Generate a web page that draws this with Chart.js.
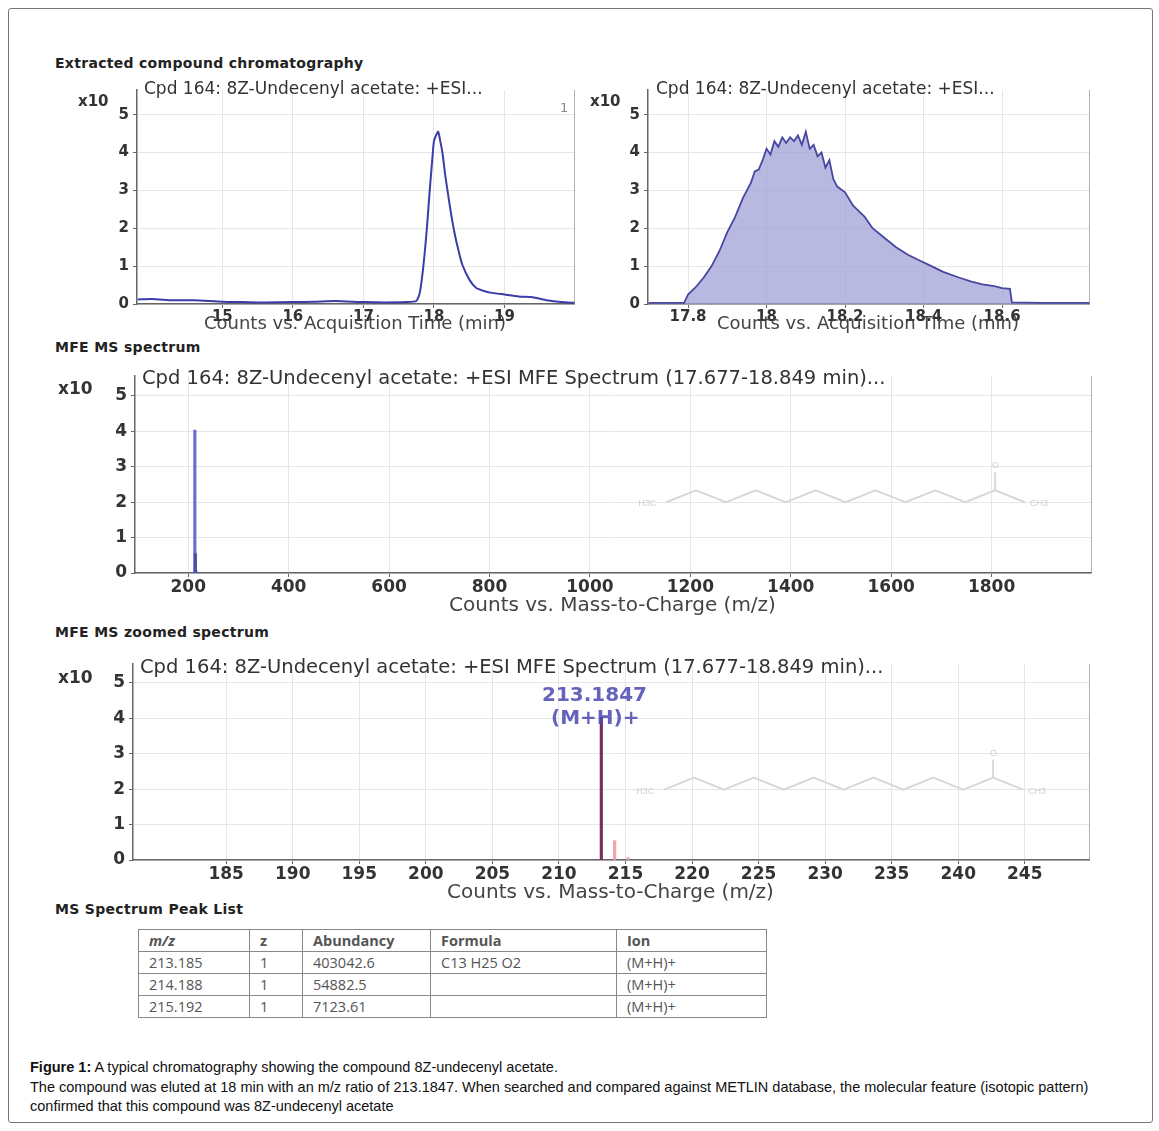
<!DOCTYPE html>
<html><head><meta charset="utf-8">
<script src="https://cdn.jsdelivr.net/npm/chart.js@4.4.1/dist/chart.umd.min.js"></script>
<style>
body{margin:0;background:#fff;width:1159px;height:1131px;position:relative;font-family:"DejaVu Sans",sans-serif;overflow:hidden}
.frame{position:absolute;left:8px;top:8px;width:1143px;height:1113px;border:1px solid #777;border-radius:3px}
.sec{position:absolute;font-weight:bold;font-size:14px;color:#222;letter-spacing:0.3px}
.ttl{position:absolute;color:#333;white-space:nowrap}
.cw{position:absolute}
.x10{position:absolute;font-size:15px;color:#333;font-weight:bold}
.axt{position:absolute;font-size:18px;color:#444;text-align:center;white-space:nowrap}
table{position:absolute;left:138px;top:929px;border-collapse:collapse;font-family:"Open Sans","Liberation Sans",sans-serif;font-size:14.5px;color:#555}
td{border:1.5px solid #888;height:21px;padding:0 10px;}
.cap{position:absolute;left:30px;top:1058px;font-family:"Liberation Sans",Arial,sans-serif;font-size:14.5px;line-height:19.5px;color:#111}
</style></head><body>
<div class="frame"></div>
<div class="sec" style="left:55px;top:55px">Extracted compound chromatography</div>
<div class="sec" style="left:55px;top:339px">MFE MS spectrum</div>
<div class="sec" style="left:55px;top:624px">MFE MS zoomed spectrum</div>
<div class="sec" style="left:55px;top:901px">MS Spectrum Peak List</div>

<div class="cw" id="w1"><canvas id="c1"></canvas></div>
<div class="cw" id="w2"><canvas id="c2"></canvas></div>
<div class="cw" id="w3"><canvas id="c3"></canvas></div>
<div class="cw" id="w4"><canvas id="c4"></canvas></div>

<div class="ttl" style="left:144px;top:78px;font-size:17px">Cpd 164: 8Z-Undecenyl acetate: +ESI...</div>
<div class="ttl" style="left:560px;top:100px;font-size:13px;color:#888">1</div>
<div class="ttl" style="left:656px;top:78px;font-size:17px">Cpd 164: 8Z-Undecenyl acetate: +ESI...</div>
<div class="ttl" style="left:142px;top:366px;font-size:19.5px">Cpd 164: 8Z-Undecenyl acetate: +ESI MFE Spectrum (17.677-18.849 min)...</div>
<div class="ttl" style="left:140px;top:655px;font-size:19.5px">Cpd 164: 8Z-Undecenyl acetate: +ESI MFE Spectrum (17.677-18.849 min)...</div>
<div class="ttl" style="left:542px;top:682px;font-size:20px;color:#4a48b0;font-weight:bold;opacity:.85">213.1847</div>
<div class="ttl" style="left:551px;top:705px;font-size:20px;color:#4a48b0;font-weight:bold;opacity:.85">(M+H)+</div>

<div class="x10" style="left:78px;top:92px">x10</div>
<div class="x10" style="left:590px;top:92px">x10</div>
<div class="x10" style="left:58px;top:378px;font-size:17px">x10</div>
<div class="x10" style="left:58px;top:667px;font-size:17px">x10</div>

<div class="axt" style="left:137px;width:436px;top:312px">Counts vs. Acquisition Time (min)</div>
<div class="axt" style="left:648px;width:440px;top:312px">Counts vs. Acquisition Time (min)</div>
<div class="axt" style="left:135px;width:955px;top:592px;font-size:20px">Counts vs. Mass-to-Charge (m/z)</div>
<div class="axt" style="left:133px;width:955px;top:879px;font-size:20px">Counts vs. Mass-to-Charge (m/z)</div>

<table>
<tr><td style="width:90px"><i><b>m/z</b></i></td><td style="width:32px"><b>z</b></td><td style="width:107px"><b>Abundancy</b></td><td style="width:165px"><b>Formula</b></td><td style="width:129px"><b>Ion</b></td></tr>
<tr><td>213.185</td><td>1</td><td>403042.6</td><td>C13 H25 O2</td><td>(M+H)+</td></tr>
<tr><td>214.188</td><td>1</td><td>54882.5</td><td></td><td>(M+H)+</td></tr>
<tr><td>215.192</td><td>1</td><td>7123.61</td><td></td><td>(M+H)+</td></tr>
</table>

<div class="cap"><b>Figure 1:</b> A typical chromatography showing the compound 8Z-undecenyl acetate.<br>The compound was eluted at 18 min with an m/z ratio of 213.1847. When searched and compared against METLIN database, the molecular feature (isotopic pattern)<br>confirmed that this compound was 8Z-undecenyl acetate</div>

<script>
// ---- data ----
const tic1Time = [13.8,14.0,14.3,14.6,15.0,15.3,15.6,16.0,16.3,16.6,17.0,17.3,17.6,17.75,17.8,17.85,17.9,17.94,17.98,18.0,18.03,18.06,18.09,18.12,18.16,18.2,18.25,18.3,18.35,18.4,18.5,18.6,18.7,18.8,19.0,19.2,19.4,19.6,19.8,20.0];
const tic1Val  = [0.12,0.13,0.10,0.10,0.06,0.05,0.04,0.05,0.06,0.08,0.05,0.04,0.05,0.08,0.3,1.0,2.0,3.0,3.9,4.3,4.45,4.55,4.3,4.0,3.4,2.9,2.3,1.8,1.4,1.05,0.65,0.42,0.35,0.3,0.25,0.2,0.18,0.1,0.05,0.03];
const tic2Time = [17.70,17.75,17.79,17.80,17.82,17.84,17.86,17.88,17.90,17.92,17.94,17.96,17.97,17.98,17.99,18.00,18.01,18.02,18.03,18.04,18.05,18.06,18.07,18.08,18.09,18.10,18.11,18.12,18.13,18.14,18.15,18.16,18.17,18.18,18.20,18.22,18.25,18.27,18.30,18.33,18.36,18.39,18.42,18.45,18.49,18.52,18.55,18.58,18.60,18.62,18.625,18.70,18.824];
const tic2Val  = [0.03,0.03,0.03,0.25,0.45,0.7,1.0,1.4,1.9,2.3,2.8,3.2,3.5,3.55,3.8,4.1,3.95,4.3,4.15,4.4,4.25,4.4,4.3,4.45,4.2,4.55,4.1,4.2,3.9,4.0,3.6,3.8,3.3,3.1,2.95,2.6,2.3,2.0,1.75,1.5,1.3,1.15,1.0,0.85,0.7,0.6,0.52,0.47,0.42,0.4,0.04,0.03,0.03];
const msMz   = [213.185,214.188,215.192];
const msAbun = [4.03,0.55,0.07];
const ticks1 = [15,16,17,18,19];
const ticks2 = [17.8,18,18.2,18.4,18.6];
const ticks3 = [200,400,600,800,1000,1200,1400,1600,1800];
const ticks4 = [185,190,195,200,205,210,215,220,225,230,235,240,245];
const yTicks = [0,1,2,3,4,5];

const YW=58, XH=34;
function place(id,l,t,w,h){const d=document.getElementById(id);d.style.left=(l-YW)+'px';d.style.top=t+'px';d.style.width=(w+YW+2)+'px';d.style.height=(h+XH)+'px';}
place('w1',137,77,436,227);
place('w2',648,77,440,227);
place('w3',135,362,955,211);
place('w4',133,650,955,210);

const structure={id:'struct',afterDatasetsDraw(c){
  if(!c.options.plugins.struct||!c.options.plugins.struct.on)return;
  const a=c.chartArea,ctx=c.ctx;const x0=a.left+a.width*0.555,x1=a.left+a.width*0.93,ym=a.top+a.height*0.62;
  ctx.save();ctx.strokeStyle='#d8d8d8';ctx.lineWidth=2;ctx.beginPath();
  const n=12;for(let i=0;i<=n;i++){const x=x0+(x1-x0)*i/n;const y=ym+(i%2?-8:4);i?ctx.lineTo(x,y):ctx.moveTo(x,y);}
  ctx.stroke();const xc=x0+(x1-x0)*11/n;ctx.beginPath();ctx.moveTo(xc,ym-8);ctx.lineTo(xc,ym-26);ctx.stroke();
  ctx.fillStyle='#d0d0d0';ctx.font='9px sans-serif';ctx.fillText('H3C',x0-28,ym+8);ctx.fillText('CH3',x1+5,ym+8);ctx.fillText('O',xc-3,ym-30);
  ctx.restore();}};

function scales(xmin,xmax,xt,ymax,fs){
  return {
    x:{type:'linear',offset:false,min:xmin,max:xmax,afterBuildTicks:s=>{s.ticks=xt.map(v=>({value:v}));},afterFit:s=>{s.height=XH;},
       grid:{color:'#e6e6e6',offset:false,drawTicks:true,tickLength:4,tickColor:'#666'},border:{color:'#666',width:1.5},
       ticks:{color:'#333',font:{size:fs,family:'DejaVu Sans',weight:'bold'},padding:0,maxRotation:0,autoSkip:false,callback:v=>String(v)}},
    y:{min:0,max:ymax,afterBuildTicks:s=>{s.ticks=yTicks.map(v=>({value:v}));},afterFit:s=>{s.width=YW;},
       grid:{color:'#e6e6e6',tickLength:4,tickColor:'#666'},border:{color:'#666',width:1.5},
       ticks:{color:'#333',font:{size:fs,family:'DejaVu Sans',weight:'bold'},padding:4,callback:v=>String(v)}}
  };
}
const frameRight={id:'fr',afterDraw(c){const a=c.chartArea,x=c.ctx;x.save();x.strokeStyle='#999';x.lineWidth=1.5;x.beginPath();x.moveTo(a.right,a.top);x.lineTo(a.right,a.bottom);x.stroke();x.restore();}};
const base={responsive:true,maintainAspectRatio:false,animation:false,layout:{padding:0},plugins:{legend:{display:false},tooltip:{enabled:false}}};

new Chart('c1',{type:'line',data:{datasets:[{data:tic1Time.map((t,i)=>({x:t,y:tic1Val[i]})),borderColor:'#3a3ea6',borderWidth:2,pointRadius:0,tension:0.2}]},
  options:{...base,scales:scales(13.79,20.0,ticks1,5.65,15)},plugins:[frameRight]});
new Chart('c2',{type:'line',data:{datasets:[{data:tic2Time.map((t,i)=>({x:t,y:tic2Val[i]})),borderColor:'#4747a0',borderWidth:1.8,backgroundColor:'rgba(160,160,215,0.75)',fill:'origin',pointRadius:0}]},
  options:{...base,scales:scales(17.698,18.824,ticks2,5.65,15)},plugins:[frameRight]});
new Chart('c3',{type:'bar',data:{datasets:[{data:msMz.map((m,i)=>({x:m,y:msAbun[i]})),backgroundColor:['#6c6ed0','#4c4ea8','#4c4ea8'],barThickness:2.5,grouped:false}]},
  options:{...base,plugins:{...base.plugins,struct:{on:true}},scales:scales(94,2000,ticks3,5.55,17)},plugins:[structure,frameRight]});
new Chart('c4',{type:'bar',data:{datasets:[{data:msMz.map((m,i)=>({x:m,y:msAbun[i]})),backgroundColor:['#7a2d62','#f2a4ac','#f2a4ac'],barThickness:2.5,grouped:false}]},
  options:{...base,plugins:{...base.plugins,struct:{on:true}},scales:scales(178.0,249.9,ticks4,5.53,17)},plugins:[structure,frameRight]});
</script>
</body></html>
